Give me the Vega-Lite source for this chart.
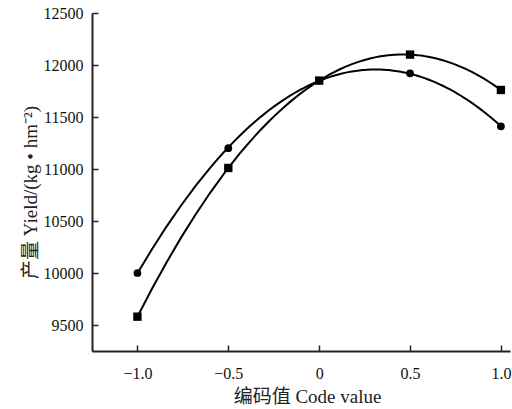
{
  "$schema": "https://vega.github.io/schema/vega-lite/v6.json",
  "width": 418,
  "height": 338,
  "autosize": {"type": "none"},
  "padding": {"left": 92, "top": 13, "right": 2, "bottom": 58},
  "config": {
    "view": {"stroke": null},
    "axis": {
      "grid": false,
      "ticks": true,
      "domainColor": "#222",
      "domainWidth": 2,
      "tickColor": "#222",
      "tickWidth": 1.5,
      "tickSize": -6,
      "labelFont": "Liberation Serif, Noto Sans CJK SC",
      "labelFontSize": 16,
      "labelColor": "#111",
      "titleFont": "Liberation Serif, Noto Sans CJK SC",
      "titleFontSize": 19,
      "titleFontWeight": "normal",
      "titleColor": "#222"
    }
  },
  "data": {
    "values": [
      {"code": -1.0, "yield": 10000, "series": "A"},
      {"code": -0.5, "yield": 11200, "series": "A"},
      {"code": 0.0, "yield": 11850, "series": "A"},
      {"code": 0.5, "yield": 11920, "series": "A"},
      {"code": 1.0, "yield": 11410, "series": "A"},
      {"code": -1.0, "yield": 9580, "series": "B"},
      {"code": -0.5, "yield": 11010, "series": "B"},
      {"code": 0.0, "yield": 11850, "series": "B"},
      {"code": 0.5, "yield": 12100, "series": "B"},
      {"code": 1.0, "yield": 11760, "series": "B"}
    ]
  },
  "encoding": {
    "x": {
      "field": "code",
      "type": "quantitative",
      "scale": {"domain": [-1.25, 1.05], "nice": false, "zero": false},
      "axis": {
        "title": "编码值 Code value",
        "values": [-1, -0.5, 0, 0.5, 1],
        "labelExpr": "datum.value == 0 ? '0' : format(datum.value, '.1f')",
        "labelPadding": 20,
        "titlePadding": 6,
        "titleX": 215
      }
    },
    "y": {
      "field": "yield",
      "type": "quantitative",
      "scale": {"domain": [9250, 12500], "nice": false, "zero": false},
      "axis": {
        "title": "产量 Yield/(kg • hm⁻²)",
        "values": [9500, 10000, 10500, 11000, 11500, 12000, 12500],
        "format": "d",
        "labelPadding": 15,
        "titlePadding": 3,
        "titleY": 179
      }
    }
  },
  "layer": [
    {
      "transform": [
        {"regression": "yield", "on": "code", "groupby": ["series"], "method": "poly", "order": 2, "extent": [-1, 1]}
      ],
      "mark": {"type": "line", "color": "black", "strokeWidth": 2},
      "encoding": {"detail": {"field": "series"}}
    },
    {
      "mark": {"type": "point", "filled": true, "color": "black", "opacity": 1},
      "encoding": {
        "shape": {"field": "series", "scale": {"domain": ["A", "B"], "range": ["circle", "square"]}, "legend": null},
        "size": {"field": "series", "scale": {"domain": ["A", "B"], "range": [60, 70]}, "legend": null}
      }
    }
  ]
}
